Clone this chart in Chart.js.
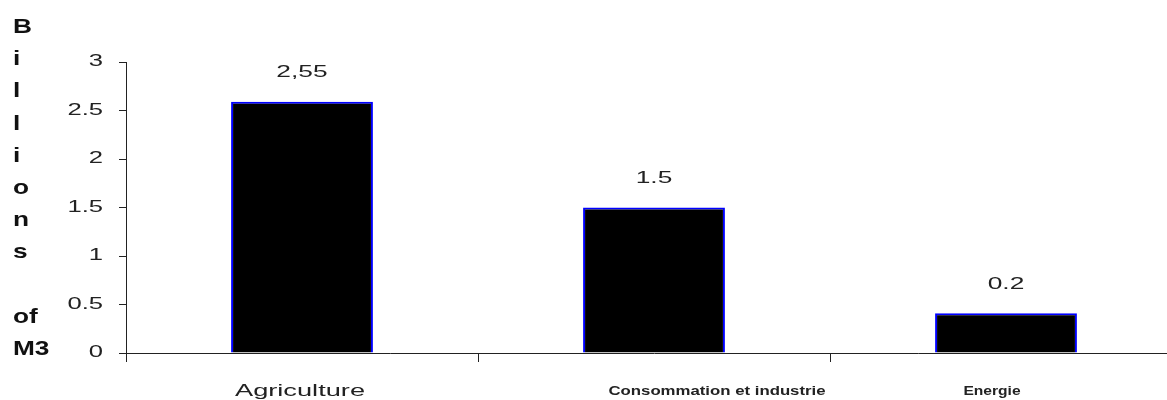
<!DOCTYPE html>
<html>
<head>
<meta charset="utf-8">
<script src="https://cdn.jsdelivr.net/npm/chart.js@4.4.1/dist/chart.umd.min.js"></script>
<style>
    html, body { margin: 0; padding: 0; background: #fff; overflow: hidden; }
    #chartWrap { position: relative; width: 1185px; height: 400px; }
</style>
</head>
<body>
<div id="chartWrap"><canvas id="waterChart"></canvas></div>
<script>
// data
const categories = ['Agriculture', 'Consommation et industrie', 'Energie'];
const volumes = [2.59, 1.5, 0.41];
const valueLabels = ['2,55', '1.5', '0.2'];
const yTicks = [0, 0.5, 1, 1.5, 2, 2.5, 3];
const yTitleLines = ['B', 'i', 'l', 'l', 'i', 'o', 'n', 's', '', 'of', 'M3'];

// the source picture is stretched sideways, so text is drawn with a horizontal scale
const catFonts = ['17px "Liberation Sans"', 'bold 13px "Liberation Sans"', 'bold 13px "Liberation Sans"'];
const catStretch = [1.6, 1.29, 1.2];
const catNudge = [-2, 63, -14];

document.addEventListener("DOMContentLoaded", function () {
    const ctx = document.getElementById("waterChart");

    const wideText = (c, text, x, y, sx) => {
        c.save();
        c.translate(x, y);
        c.scale(sx, 1);
        c.fillText(text, 0, 0);
        c.restore();
    };

    const textPlugin = {
        id: 'extraText',
        afterDraw(chart) {
            const c = chart.ctx;
            const x = chart.scales.x;
            const y = chart.scales.y;
            const meta = chart.getDatasetMeta(0);
            c.save();
            c.fillStyle = '#222';
            c.textBaseline = 'middle';

            // y tick labels
            c.font = '16px "Liberation Sans"';
            c.textAlign = 'right';
            y.ticks.forEach(t => {
                wideText(c, String(t.value), 103, y.getPixelForValue(t.value), 1.6);
            });

            // values over the bars
            c.font = '17px "Liberation Sans"';
            c.textAlign = 'center';
            meta.data.forEach((bar, i) => {
                wideText(c, valueLabels[i], bar.x, bar.y - 29, 1.55);
            });

            // category names
            categories.forEach((name, i) => {
                c.font = catFonts[i];
                wideText(c, name, x.getPixelForValue(i) + catNudge[i], 391, catStretch[i]);
            });

            // stacked y title
            c.fillStyle = '#111';
            c.font = 'bold 21px "Liberation Sans"';
            c.textAlign = 'left';
            c.textBaseline = 'alphabetic';
            yTitleLines.forEach((line, i) => {
                wideText(c, line, 13, 33 + i * 32.2, 1.25);
            });
            c.restore();
        }
    };

    new Chart(ctx, {
        type: 'bar',
        data: {
            labels: categories,
            datasets: [{
                data: volumes,
                backgroundColor: '#000000',
                borderColor: '#0000ff',
                borderWidth: 2,
                borderSkipped: 'start',
                categoryPercentage: 1,
                barPercentage: 0.403
            }]
        },
        options: {
            responsive: true,
            maintainAspectRatio: false,
            animation: false,
            layout: {
                padding: { top: 62, right: 3, left: 0, bottom: 0 }
            },
            plugins: {
                legend: { display: false },
                tooltip: { enabled: false },
                title: { display: false }
            },
            scales: {
                x: {
                    border: { display: true, color: '#222', width: 1 },
                    grid: {
                        offset: true,
                        drawOnChartArea: false,
                        drawTicks: true,
                        tickLength: 9,
                        color: '#222'
                    },
                    ticks: { display: false },
                    afterFit(scale) { scale.height = 47; }
                },
                y: {
                    min: 0,
                    max: 3,
                    border: { display: true, color: '#222', width: 1 },
                    grid: {
                        drawOnChartArea: false,
                        drawTicks: true,
                        tickLength: 7,
                        color: '#222'
                    },
                    afterBuildTicks(scale) {
                        scale.ticks = yTicks.map(v => ({ value: v }));
                    },
                    ticks: { display: false },
                    afterFit(scale) { scale.width = 126; }
                }
            }
        },
        plugins: [textPlugin]
    });
});
</script>
</body>
</html>
